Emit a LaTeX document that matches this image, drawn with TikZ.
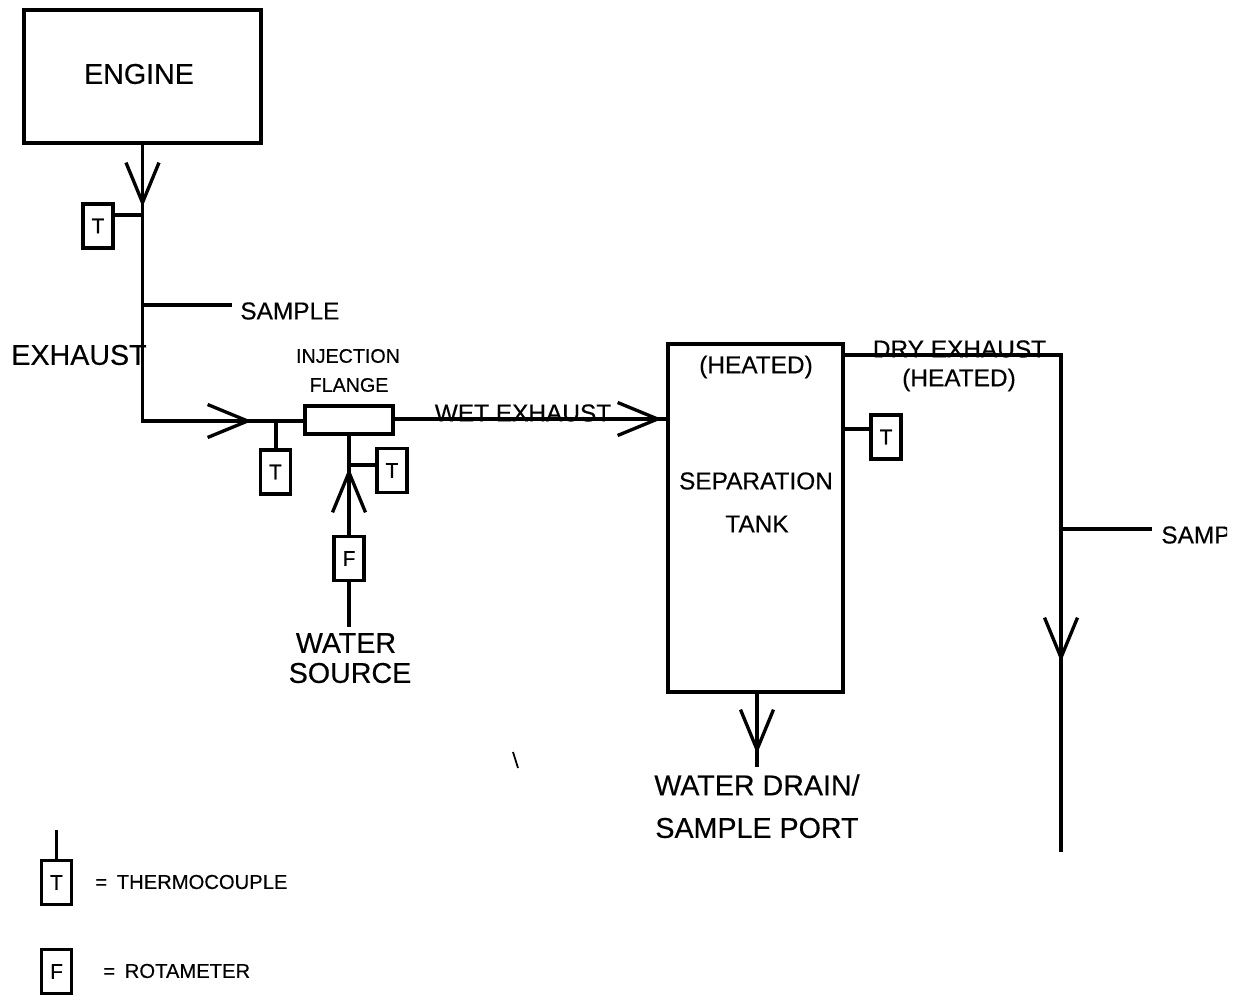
\documentclass[tikz,border=0pt]{standalone}
\usepackage{fontspec}
\setmainfont[FakeBold=0.35]{Liberation Sans}
\usetikzlibrary{arrows.meta}

\begin{document}
\begin{tikzpicture}[
  x=0.02cm, y=-0.02cm,
  every node/.style={inner sep=0pt, align=center, text=black},
  bigtext/.style={font=\fontsize{16.3}{18}\selectfont},
  midtext/.style={font=\fontsize{13.9}{16}\selectfont},
  smalltext/.style={font=\fontsize{11.2}{13}\selectfont},
  legendtext/.style={font=\fontsize{11.5}{13}\selectfont},
  box/.style={draw, line width=#1},
  gauge/.style={draw, line width=2pt, minimum width=0.6cm, minimum height=0.88cm, font=\fontsize{12}{14}\selectfont},
  pipe/.style={line width=1.9pt},
  flow/.style={pipe, -{Straight Barb[length=0.8cm, width=0.66cm, line width=1.9pt]}}
]
\useasboundingbox (0,0) rectangle (1237,996);

\node[box=2.4pt, minimum width=4.74cm, minimum height=2.66cm] (engine) at (142.5,76.5) {};
\node[bigtext] (enginelabel) at (139,74) {ENGINE};
\node[gauge] (t1) at (98,226) {T};
\coordinate (c1) at (142.5,207);
\coordinate (c2) at (142.5,215);
\coordinate (c3) at (142.5,305);
\coordinate (c4) at (142.5,421);
\coordinate (c5) at (252,421);
\coordinate (c6) at (276,421);
\coordinate (s1) at (232,305);
\node[midtext, anchor=west] (sample1) at (240,311) {SAMPLE};
\node[bigtext] (exhaust) at (79,355) {EXHAUST};

\node[box=2pt, minimum width=1.76cm, minimum height=0.56cm] (flange) at (349,420) {};
\node[smalltext] (injection) at (348,356) {INJECTION};
\node[smalltext] (flangelabel) at (349,385) {FLANGE};
\node[gauge] (t2) at (275.5,472) {T};
\node[gauge] (t3) at (392,470.5) {T};
\node[gauge] (f1) at (349,558.5) {F};
\coordinate (c7) at (349,468);
\coordinate (c8) at (349,465);
\coordinate (w1) at (349,627);
\node[bigtext] (water) at (346,643) {WATER};
\node[bigtext] (source) at (350,673) {SOURCE};

\node[box=2pt, minimum width=3.5cm, minimum height=6.96cm] (tank) at (755.5,518) {};
\node[midtext] (heated1) at (756,367) {(HEATED)};
\node[midtext] (separation) at (756,481) {SEPARATION};
\node[midtext] (tanklabel) at (757,524) {TANK};
\node[midtext] (wet) at (523,413) {WET EXHAUST};
\coordinate (c9) at (393,419);
\coordinate (c10) at (662,419);
\coordinate (c12) at (668,419);
\coordinate (d1) at (757,692);
\coordinate (d2) at (757,754);
\coordinate (d3) at (757,767);
\node[bigtext] (drain) at (757,785) {WATER DRAIN/};
\node[bigtext] (port) at (757,828) {SAMPLE PORT};

\coordinate (e1) at (843,355);
\coordinate (e2) at (1061,355);
\coordinate (e3) at (1061,529);
\coordinate (e4) at (1061,662);
\coordinate (e5) at (1061,852);
\coordinate (s2) at (1152,529);
\coordinate (c11) at (843,429);
\node[midtext] (dry) at (959.5,349) {DRY EXHAUST};
\node[midtext] (heated2) at (959,380) {(HEATED)};
\node[gauge] (t4) at (886,437) {T};
\begin{scope}
  \clip (1150,500) rectangle (1227,570);
  \node[midtext, anchor=west] (sample2) at (1161,535) {SAMP};
\end{scope}

\node[gauge] (t5) at (56.5,882.5) {T};
\coordinate (l1) at (56.5,830);
\node[legendtext, anchor=west] (thermo) at (95,882) {=\hspace*{5.5pt}THERMOCOUPLE};
\node[gauge] (f2) at (56.5,971.5) {F};
\node[legendtext, anchor=west] (rota) at (103,971) {=\hspace*{5.5pt}ROTAMETER};

\draw[pipe] (engine.south) -- (c4) -- (c6 -| flange.west);
\draw[flow] (engine.south) -- (c1);
\draw[flow] (c4) -- (c5);
\draw[pipe] (t1.east |- c2) -- (c2);
\draw[pipe] (c3) -- (s1);
\draw[pipe] (c6) -- (t2.north -| c6);
\draw[pipe] (flange.south) -- (f1.north);
\draw[pipe] (c8) -- (t3.west |- c8);
\draw[flow] (f1.north) -- (c7);
\draw[pipe] (f1.south) -- (w1);
\draw[pipe] (c9) -- (c12);
\draw[flow] (c9) -- (c10);
\draw[pipe] (d1) -- (d3);
\draw[flow] (d1) -- (d2);
\draw[pipe] (e1) -- (e2) -- (e5);
\draw[flow] (e3) -- (e4);
\draw[pipe] (e3) -- (s2);
\draw[pipe] (c11) -- (t4.west |- c11);
\draw[pipe] (l1) -- (t5.north);
\draw[line width=1pt] (513,752) -- (518,768);

\end{tikzpicture}
\end{document}
